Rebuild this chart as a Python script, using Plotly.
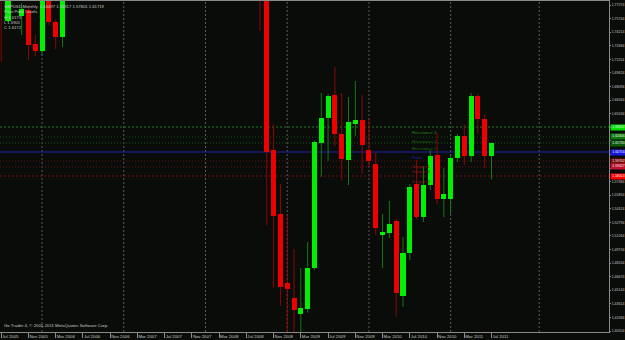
import plotly.graph_objects as go

# ---------------- data ----------------
months = ["2005-07", "2005-08", "2005-10", "2005-11", "2005-12", "2006-01", "2006-02", "2006-03", "2006-04",
          "2008-09", "2008-10", "2008-11", "2008-12", "2009-01", "2009-02", "2009-03", "2009-04", "2009-05",
          "2009-06", "2009-07", "2009-08", "2009-09", "2009-10", "2009-11", "2009-12", "2010-01", "2010-02",
          "2010-03", "2010-04", "2010-05", "2010-06", "2010-07", "2010-08", "2010-09", "2010-10", "2010-11",
          "2010-12", "2011-01", "2011-02", "2011-03", "2011-04", "2011-05", "2011-06", "2011-07"]
opens = [1.7920, 1.75472, 1.76035, 1.76711, 1.72881, 1.72093, 1.7850, 1.75359, 1.73670,
         1.8200, 1.7850, 1.60942, 1.53733, 1.45961, 1.44271, 1.42503, 1.43032, 1.47684,
         1.61764, 1.64580, 1.67137, 1.62744, 1.59815, 1.63870, 1.64321, 1.60942, 1.59365,
         1.51367, 1.51592, 1.52944, 1.44496, 1.49340, 1.57112, 1.53395, 1.56999, 1.60378,
         1.55422, 1.55422, 1.60040, 1.62518, 1.60265, 1.67024, 1.64433, 1.60265]
highs = [1.8000, 1.8100, 1.7750, 1.7730, 1.73895, 1.7850, 1.7900, 1.7560, 1.8300,
         1.8600, 1.7900, 1.63870, 1.57112, 1.53620, 1.49790, 1.47650, 1.50579, 1.6200,
         1.67362, 1.67249, 1.70290, 1.67362, 1.66911, 1.68714, 1.67137, 1.64433, 1.60603,
         1.53732, 1.55197, 1.5320, 1.51142, 1.57112, 1.59815, 1.59139, 1.60942, 1.62857,
         1.58914, 1.60491, 1.62744, 1.63870, 1.67362, 1.67249, 1.64884, 1.61730]
lows = [1.70854, 1.7530, 1.73895, 1.71079, 1.71529, 1.71642, 1.7500, 1.72318, 1.72544,
        1.74345, 1.52494, 1.45431, 1.43370, 1.3500, 1.3700, 1.3500, 1.42615, 1.47425,
        1.57934, 1.59702, 1.61392, 1.57494, 1.56999, 1.62518, 1.58238, 1.59139, 1.51367,
        1.47650, 1.51029, 1.42165, 1.43291, 1.48551, 1.53169, 1.52831, 1.56436, 1.54859,
        1.53395, 1.53733, 1.59590, 1.59252, 1.59590, 1.62744, 1.58914, 1.57607]
closes = [1.7800, 1.8000, 1.76824, 1.72768, 1.72093, 1.7800, 1.75359, 1.73670, 1.8200,
          1.7850, 1.60716, 1.53541, 1.45544, 1.45251, 1.42953, 1.43145, 1.47684, 1.61843,
          1.64580, 1.67024, 1.62744, 1.59928, 1.64095, 1.64321, 1.61505, 1.59702, 1.52156,
          1.51705, 1.52606, 1.44834, 1.49340, 1.56774, 1.53395, 1.56999, 1.60265, 1.55422,
          1.55985, 1.60040, 1.62518, 1.60265, 1.67024, 1.64433, 1.60265, 1.61730]

time_labels = ["Jul 2005", "Nov 2005", "Mar 2006", "Jul 2006", "Nov 2006", "Mar 2007", "Jul 2007",
               "Nov 2007", "Mar 2008", "Jul 2008", "Nov 2008", "Mar 2009", "Jul 2009", "Nov 2009",
               "Mar 2010", "Jul 2010", "Nov 2010", "Mar 2011", "Jul 2011"]
time_label_months = ["2005-07", "2005-11", "2006-03", "2006-07", "2006-11", "2007-03", "2007-07",
                     "2007-11", "2008-03", "2008-07", "2008-11", "2009-03", "2009-07", "2009-11",
                     "2010-03", "2010-07", "2010-11", "2011-03", "2011-07"]
grid_months = ["2006-01", "2007-01", "2008-01", "2009-01", "2010-01", "2011-01", "2012-02"]

price_ticks = ["1.40554", "1.42084", "1.43614", "1.45144", "1.46674", "1.48204", "1.49734", "1.51264",
               "1.52794", "1.54324", "1.55854", "1.57384", "1.58914", "1.60444", "1.61974", "1.63504",
               "1.65034", "1.66564", "1.68094", "1.69624", "1.71154", "1.72684", "1.74214", "1.75744",
               "1.77274"]

pivot_names = ["Resistance 3", "Resistance 2", "Resistance 1", "Pivot", "Support 1", "Support 2", "Support 3"]
pivot_values = [1.63532, 1.62406, 1.61730, 1.60716, 1.59702, 1.59027, 1.58013]
pivot_label_month = "2010-07"

info_lines = ["GBPUSD,Monthly  1.60497 1.61817 1.57801 1.61719", "Pivot Point Levels",
              "H 1.6173", "L 1.5901", "C 1.6172"]
copyright_text = "Go Trader 4, \u00a9 2001-2011 MetaQuotes Software Corp."


def midx(s):
    y, m = s.split("-")
    return (int(y) - 2005) * 12 + int(m) - 7


# ---------------- styles ----------------
FONT = "Liberation Sans"
BG = "#090c09"
BULL, BEAR = "#00f000", "#ee0000"
BULL_WICK, BEAR_WICK = "#137a13", "#8a0808"
AXIS = "#8a8a8a"
TXT = "#c8c8c8"
pivot_line_colors = ["#1f7f1f", "#0f4a0f", "#125a12", "#2020a8", "#5a0c0c", "#6a1018", "#7a0c0c"]
pivot_line_dash = ["2px,2px", "1px,2px", "1px,2px", "solid", "1px,2px", "1px,2px", "2px,2px"]
pivot_text_colors = ["#1c8c1c", "#1a6a1a", "#1a6a1a", "#2424c0", "#8a1414", "#8a1414", "#8a1414"]
pivot_box_colors = ["#00e000", "#0a7a0a", "#0a5a0a", "#1818e0", "#7a0a0a", "#c01030", "#ff0000"]

xs = [midx(m) for m in months]
fig = go.Figure()

# wicks (two segments each, so they never cross a body)
for bull in (True, False):
    wx, wy = [], []
    for x, o, h, l, c in zip(xs, opens, highs, lows, closes):
        if (c >= o) != bull:
            continue
        lo, hi = min(o, c), max(o, c)
        wx += [x, x, None, x, x, None]
        wy += [l, lo, None, hi, h, None]
    fig.add_trace(go.Scatter(x=wx, y=wy, mode="lines", hoverinfo="skip",
                             line=dict(color=BULL_WICK if bull else BEAR_WICK, width=1)))

# bodies
for bull in (True, False):
    bx, bh, bb = [], [], []
    for x, o, c in zip(xs, opens, closes):
        if (c >= o) != bull:
            continue
        bx.append(x)
        bb.append(min(o, c))
        bh.append(max(abs(c - o), 0.0008))
    fig.add_trace(go.Bar(x=bx, y=bh, base=bb, width=0.74,
                         marker=dict(color=BULL if bull else BEAR, line=dict(width=0))))

shapes = []
for gm in grid_months:
    gx = midx(gm)
    shapes.append(dict(type="line", xref="x", yref="paper", x0=gx, x1=gx, y0=0, y1=1,
                       line=dict(color="#5a5a5a", width=1, dash="2px,2px"), layer="below"))
for v, col, d in zip(pivot_values, pivot_line_colors, pivot_line_dash):
    shapes.append(dict(type="line", xref="paper", yref="y", x0=0, x1=1, y0=v, y1=v,
                       line=dict(color=col, width=1, dash=d), layer="below"))

# hide price-scale labels that sit under the coloured level boxes (as in the reference)
tick_vals = [float(t) for t in price_ticks]
px_per_unit = 331.0 / (1.77724 - 1.40441)
tick_text = [t if min(abs(float(t) - v) for v in pivot_values) * px_per_unit > 4.5 else ""
             for t in price_ticks]

annotations = []
for name, v, col in zip(pivot_names, pivot_values, pivot_text_colors):
    annotations.append(dict(x=midx(pivot_label_month), y=v, xref="x", yref="y", text=name,
                            showarrow=False, xanchor="left", yanchor="top", yshift=-0.5, xshift=0,
                            font=dict(family=FONT, size=4.2, color=col)))
for v, col in zip(pivot_values, pivot_box_colors):
    annotations.append(dict(x=1, y=v, xref="paper", yref="y", text="%.5f" % v, showarrow=False,
                            xanchor="left", yanchor="middle", xshift=1, width=15, height=4.6,
                            bgcolor=col, borderpad=0,
                            font=dict(family=FONT, size=3.4, color="#f0f0f0")))
for i, t in enumerate(info_lines):
    annotations.append(dict(x=0, y=1, xref="paper", yref="paper", text=t, showarrow=False,
                            xanchor="left", yanchor="top", xshift=2, yshift=-1 - 5.3 * i,
                            font=dict(family=FONT, size=4.2, color=TXT)))
annotations.append(dict(x=0, y=0, xref="paper", yref="paper", text=copyright_text, showarrow=False,
                        xanchor="left", yanchor="bottom", xshift=2, yshift=2,
                        font=dict(family=FONT, size=4.3, color=TXT)))

fig.update_layout(
    width=625, height=340, autosize=False,
    margin=dict(l=0, r=16, t=1, b=8),
    paper_bgcolor=BG, plot_bgcolor=BG,
    showlegend=False, barmode="overlay", bargap=0,
    shapes=shapes, annotations=annotations,
    xaxis=dict(range=[-0.176, 89.25], showgrid=False, zeroline=False, automargin=False,
               tickmode="array", tickvals=[midx(m) for m in time_label_months], ticktext=time_labels,
               ticks="outside", ticklen=5, tickcolor=AXIS, tickwidth=1, tickangle=0,
               ticklabelposition="outside right",
               tickfont=dict(family=FONT, size=4.3, color=TXT),
               showline=True, linecolor=AXIS, linewidth=1, mirror=True),
    yaxis=dict(range=[1.40441, 1.77724], side="right", showgrid=False, zeroline=False, automargin=False,
               tickmode="array", tickvals=tick_vals, ticktext=tick_text,
               ticks="outside", ticklen=1, tickcolor=AXIS,
               tickfont=dict(family=FONT, size=3.5, color=TXT),
               showline=True, linecolor=AXIS, linewidth=1),
)

fig.write_html("out.html")
